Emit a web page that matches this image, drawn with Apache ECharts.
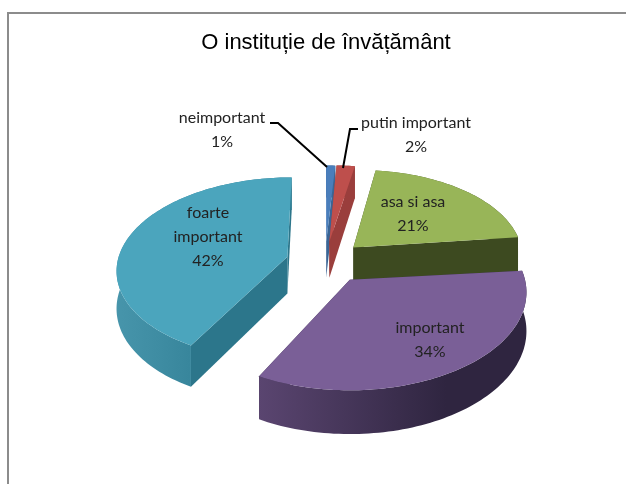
<!DOCTYPE html>
<html>
<head>
<meta charset="utf-8">
<style>
  html, body { margin: 0; padding: 0; background: #fff; }
  #chart { width: 626px; height: 484px; }
</style>
<script src="https://cdn.jsdelivr.net/npm/echarts@6/dist/echarts.min.js"></script>
</head>
<body>
<div id="chart"></div>
<script>
// data
var categories = ["neimportant", "putin important", "asa si asa", "important", "foarte important"];
var percents = [1, 2, 21, 34, 42];

// look of each slice, same order as categories
var topColors = ["#4a7ebb", "#be4f4c", "#98b558", "#7a5f97", "#4ba5bd"];
var cutColors = ["#3a6595", "#9a3e3c", "#3d4a20", "#3a2e4c", "#2c768b"];
var wallFrom = ["#3a6595", "#9a3e3c", "#5f7335", "#5a4570", "#4795ab"];
var wallTo = ["#3a6595", "#9a3e3c", "#3d4a20", "#2f2540", "#2e7c92"];
var labelLines = [
  ["neimportant"], ["putin important"], ["asa si asa"], ["important"], ["foarte", "important"]
];
var labelCenter = [[222, 118], [416, 123], [413, 202], [430, 328], [208, 213]];
var leaders = [
  [[270, 123], [278, 123], [327, 167]],
  [[358, 129], [350, 129], [343, 168]],
  null, null, null
];

// pie projection, the 3d view is not quite the same for every slice
var cx = 325, cy = 262, rx = 170, ry = 91, persp = 0.13;
var explode = 0.23, depth = 37;
var sliceTilt = [0, 0.02, 0.03, 0.017, 0];
var sliceShift = [0, 0, 0, 3, 0];

function project(u, v, drop, i) {
  var s = 1 / (1 - persp * v);
  var x = rx * u * s, y = ry * v * s;
  return [cx + sliceShift[i] + x + sliceTilt[i] * y, cy + y - sliceTilt[i] * x + drop * s];
}

function arcPoints(mid, a0, a1, drop, i) {
  var pts = [], n = Math.max(2, Math.ceil((a1 - a0) * 40));
  var ou = explode * Math.sin(mid), ov = -explode * Math.cos(mid);
  for (var k = 0; k <= n; k++) {
    var a = a0 + (a1 - a0) * k / n;
    pts.push(project(ou + Math.sin(a), ov - Math.cos(a), drop, i));
  }
  return pts;
}

function renderSlice(i, api) {
  var before = 0;
  for (var k = 0; k < i; k++) before += percents[k];
  var a0 = before / 100 * Math.PI * 2;
  var a1 = (before + api.value(0)) / 100 * Math.PI * 2;
  var mid = (a0 + a1) / 2;
  var ou = explode * Math.sin(mid), ov = -explode * Math.cos(mid);
  var apex = project(ou, ov, 0, i), apexLow = project(ou, ov, depth, i);
  var rim = arcPoints(mid, a0, a1, 0, i), rimLow = arcPoints(mid, a0, a1, depth, i);
  var first = rim[0], last = rim[rim.length - 1];
  var kids = [];
  // cut faces go under the outer wall, the top goes over both
  kids.push({
    type: "polygon",
    shape: { points: [apex, first, rimLow[0], apexLow] },
    style: { fill: cutColors[i] }
  });
  kids.push({
    type: "polygon",
    shape: { points: [apex, last, rimLow[rimLow.length - 1], apexLow] },
    style: { fill: cutColors[i] }
  });
  kids.push({
    type: "polygon",
    shape: { points: rim.concat(rimLow.slice().reverse()) },
    style: {
      fill: {
        type: "linear", x: 0, y: 0, x2: 1, y2: 0,
        colorStops: [
          { offset: 0, color: wallFrom[i] },
          { offset: 0.7, color: wallTo[i] },
          { offset: 1, color: wallTo[i] }
        ]
      }
    }
  });
  kids.push({
    type: "polygon",
    shape: { points: [apex].concat(rim) },
    style: { fill: topColors[i] }
  });
  if (leaders[i]) {
    kids.push({
      type: "polyline",
      shape: { points: leaders[i] },
      style: { fill: null, stroke: "#000", lineWidth: 2 }
    });
  }
  var lines = labelLines[i].concat([api.value(0) + "%"]);
  lines.forEach(function (t, n) {
    kids.push({
      type: "text",
      x: labelCenter[i][0],
      y: labelCenter[i][1] + n * 24,
      style: {
        text: t, fill: "#222", align: "center", verticalAlign: "middle",
        font: '16px Lato, "Open Sans", sans-serif'
      }
    });
  });
  return { type: "group", children: kids };
}

// back slices first so the front ones sit on top
var drawOrder = [0, 1, 2, 4, 3];

var myChart = echarts.init(document.getElementById("chart"), null, { renderer: "canvas" });
myChart.setOption({
  animation: false,
  backgroundColor: "#fff",
  title: {
    text: "O instituție de învățământ",
    left: 321,
    top: 27,
    textAlign: "center",
    textStyle: { fontFamily: "Liberation Sans", fontSize: 22, fontWeight: "normal", color: "#000" }
  },
  graphic: [
    { type: "line", shape: { x1: 8, y1: 13, x2: 626, y2: 13 }, style: { stroke: "#8c8c8c", lineWidth: 2 } },
    { type: "line", shape: { x1: 8, y1: 12, x2: 8, y2: 484 }, style: { stroke: "#8c8c8c", lineWidth: 2 } }
  ],
  series: drawOrder.map(function (idx) {
    return {
      type: "custom",
      name: categories[idx],
      coordinateSystem: "none",
      silent: true,
      renderItem: function (params, api) {
        return renderSlice(idx, api);
      },
      data: [[percents[idx]]]
    };
  })
});
</script>
</body>
</html>
